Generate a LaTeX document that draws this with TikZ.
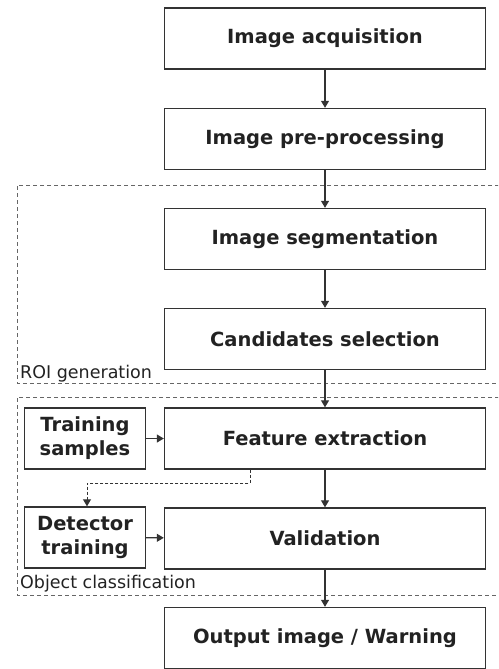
\documentclass[tikz,border=0pt]{standalone}
\usepackage{fontspec}
\setmainfont{DejaVu Sans}
\usetikzlibrary{arrows.meta}
\definecolor{ln}{HTML}{333333}
\definecolor{tx}{HTML}{222222}
\tikzset{
  mainbox/.style={draw=ln, line width=1.4pt, minimum width=321pt, minimum height=61pt, inner sep=0pt, text=tx, font=\fontsize{19.5}{22}\selectfont\bfseries},
  sidebox/.style={draw=ln, line width=1.4pt, minimum width=121pt, minimum height=61pt, inner sep=0pt, text=tx, align=center, font=\fontsize{19.5}{24}\selectfont\bfseries},
  flow/.style={draw=ln, line width=1.2pt, -{Triangle[width=8pt,length=7pt]}},
  region/.style={draw=ln!75, line width=1pt, dash pattern=on 4pt off 3pt},
  regionlabel/.style={text=tx, inner sep=0pt, anchor=base west, font=\fontsize{17.5}{20}\selectfont}
}
\begin{document}
\begin{tikzpicture}[x=1pt,y=-1pt]
\useasboundingbox (0,0) rectangle (498,669);
\begin{scope}
\clip (0,0) rectangle (498,669);
\draw[region] (520,185) -- (17,185) -- (17,383) -- (520,383);
\draw[region] (520,397) -- (17,397) -- (17,595) -- (520,595);
\end{scope}
\node[mainbox] (acq)  at (325,38.5) {Image acquisition};
\node[mainbox] (pre)  at (325,139)  {Image pre-processing};
\node[mainbox] (seg)  at (325,239)  {Image segmentation};
\node[mainbox] (cand) at (325,339)  {Candidates selection};
\node[mainbox] (feat) at (325,438.5){Feature extraction};
\node[mainbox] (val)  at (325,538.5){Validation};
\node[mainbox] (out)  at (325,638)  {Output image / Warning};
\node[sidebox] (train) at (85,438.5) {Training\\samples};
\node[sidebox] (det)   at (85,537.5) {Detector\\training};
\node[regionlabel] (roi) at (20,378) {ROI generation};
\node[regionlabel] (oc)  at (20,588) {Object classification};
\coordinate (fb1) at (250,483);
\coordinate (fb2) at (87,483);
\draw[flow] (acq) -- (pre);
\draw[flow] (pre) -- (seg);
\draw[flow] (seg) -- (cand);
\draw[flow] (cand) -- (feat);
\draw[flow] (feat) -- (val);
\draw[flow] (val) -- (out);
\draw[flow] (train) -- (feat);
\draw[flow] (det) -- (val);
\draw[flow, line width=1pt, dash pattern=on 3pt off 2pt] (feat.south -| fb1) -- (fb1) -- (fb2) -- (fb2 |- det.north);
\end{tikzpicture}
\end{document}
